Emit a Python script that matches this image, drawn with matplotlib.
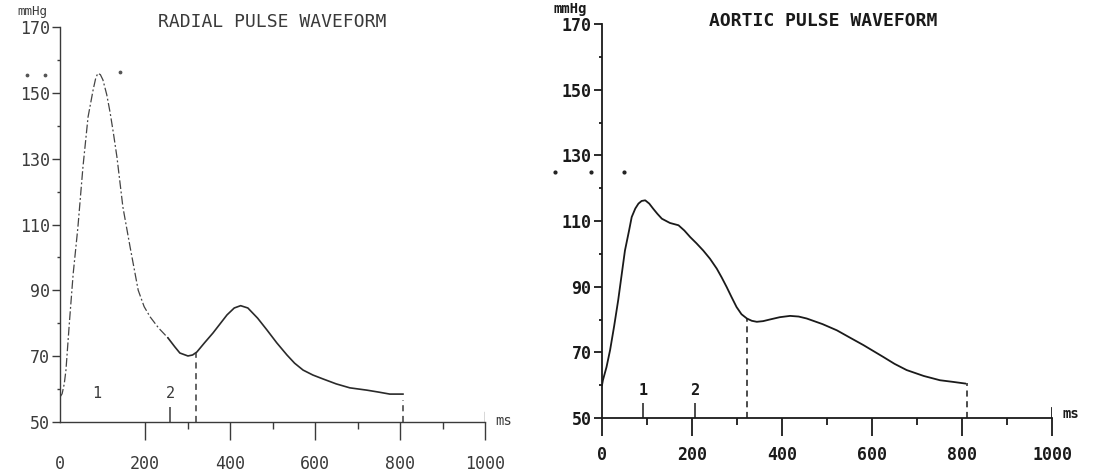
import matplotlib.pyplot as plt

# radial pulse waveform, time (ms) / pressure (mmHg)
radial_t = [0, 5, 10, 14, 22, 31, 42, 54, 66, 78, 84, 89, 95, 101, 110, 118, 126,
            134, 148, 165, 184, 198, 212, 232, 254, 270, 282, 301, 312, 322, 340,
            360, 393, 410, 425, 442, 465, 487, 510, 534, 552, 572, 595, 619, 650,
            682, 722, 750, 776, 807]
radial_p = [57.5, 58.5, 61.5, 65.7, 80, 95, 109, 127.5, 142.7, 151, 154.5, 156,
            155.6, 154, 149.5, 144, 137.5, 130.5, 115.3, 103.1, 90, 85, 81.9, 78.5,
            75.5, 72.8, 70.9, 70, 70.3, 71.2, 74, 77, 82.5, 84.6, 85.3, 84.6, 81.5,
            77.9, 74, 70.3, 67.8, 65.7, 64.2, 63, 61.5, 60.3, 59.6, 59, 58.4, 58.4]
radial_solid_from = 254          # trace is broken/faint before this time

# aortic pulse waveform
aortic_t = [0, 2, 10, 18, 27, 36, 51, 60, 66, 74, 81, 88, 96, 105, 114, 123, 133,
            151, 170, 183, 196, 210, 225, 240, 255, 266, 277, 288, 299, 310, 322,
            333, 344, 358, 373, 395, 418, 437, 455, 490, 522, 552, 581, 603, 625,
            650, 677, 715, 751, 780, 807]
aortic_p = [60, 61.5, 65.5, 70.7, 78, 85.9, 101, 107, 111.2, 113.8, 115.3, 116.1,
            116.3, 115.3, 113.7, 112.2, 110.7, 109.4, 108.7, 107.1, 105.1, 103.2,
            101, 98.5, 95.5, 92.8, 89.9, 86.8, 83.8, 81.6, 80.3, 79.6, 79.3, 79.5,
            80, 80.7, 81.1, 80.9, 80.3, 78.6, 76.7, 74.4, 72.2, 70.4, 68.6, 66.5,
            64.6, 62.8, 61.5, 61, 60.5]

# numbered markers (time, has tick) and dashed cursor lines (time, top)
radial_marks = [("1", 86, False), ("2", 259, True)]
aortic_marks = [("1", 91, True), ("2", 207, True)]
radial_cursors = [(319, 71.0), (807, 56.6)]
aortic_cursors = [(322, 80.3), (810, 60.6)]

# stray printer dots
radial_dots_t = [-78, -35, 141]
radial_dots_p = [155.5, 155.5, 156.5]
aortic_dots_t = [-104, -24, 49]
aortic_dots_p = [124.8, 124.8, 124.8]

x_ticks = [0, 200, 400, 600, 800, 1000]
x_labels = ["0", "200", "400", "600", "800", "1000"]
y_ticks = [50, 70, 90, 110, 130, 150, 170]
y_labels = ["50", "70", "90", "110", "130", "150", "170"]
y_minor = [60, 80, 100, 120, 140, 160]

W, H = 1094, 472
fig = plt.figure(figsize=(W / 100, H / 100), dpi=100)
fig.patch.set_facecolor("white")

ax_r = fig.add_axes([60 / W, (H - 421.7) / H, 425 / W, 394.4 / H])
ax_a = fig.add_axes([602 / W, (H - 418) / H, 450 / W, 394 / H])

MONO = "DejaVu Sans Mono"


def style_axes(ax, color, weight, lw, minor_x, xpad):
    ax.set_xlim(0, 1000)
    ax.set_ylim(50, 170)
    ax.patch.set_alpha(0)
    for s in ["top", "right"]:
        ax.spines[s].set_visible(False)
    for s in ["left", "bottom"]:
        ax.spines[s].set_color(color)
        ax.spines[s].set_linewidth(lw)
    ax.set_xticks(x_ticks)
    ax.set_xticklabels(x_labels)
    ax.set_xticks(minor_x, minor=True)
    ax.set_yticks(y_ticks)
    ax.set_yticklabels(y_labels)
    ax.set_yticks(y_minor, minor=True)
    ax.tick_params(axis="x", which="major", length=13, width=lw, pad=xpad, color=color)
    ax.tick_params(axis="x", which="minor", length=5, width=lw, color=color)
    ax.tick_params(axis="y", which="major", length=5.5, width=lw, pad=2, color=color)
    ax.tick_params(axis="y", which="minor", length=2.5, width=lw, color=color)
    for lab in ax.get_xticklabels() + ax.get_yticklabels():
        lab.set_fontfamily(MONO)
        lab.set_fontweight(weight)
        lab.set_fontsize(12)
        lab.set_color(color)
    # small upturn at the end of the time axis
    ax.axvline(1000, ymin=0, ymax=0.025, color=color, lw=lw)


style_axes(ax_r, "#3a3a3a", "normal", 1.0, [300, 500, 700, 900], 11)
ax_r.xaxis.get_major_ticks()[0].tick1line.set_visible(False)
style_axes(ax_a, "#1a1a1a", "bold", 1.3, [100, 300, 500, 700, 900], 7)

# radial trace: broken upstroke, solid tail
split = next(i for i, t in enumerate(radial_t) if t >= radial_solid_from)
ax_r.plot(radial_t[:split + 1], radial_p[:split + 1], color="#444444", lw=0.9,
          ls=(0, (7, 2, 1.5, 2)))
ax_r.plot(radial_t[split:], radial_p[split:], color="#2a2a2a", lw=1.2)

ax_a.plot(aortic_t, aortic_p, color="#1a1a1a", lw=1.3)

for ax, marks, cursors, color, weight in [
    (ax_r, radial_marks, radial_cursors, "#3a3a3a", "normal"),
    (ax_a, aortic_marks, aortic_cursors, "#1a1a1a", "bold"),
]:
    for label, t, tick in marks:
        ax.text(t, 58.5, label, ha="center", va="center", fontfamily=MONO,
                fontweight=weight, fontsize=11, color=color)
        if tick:
            ax.vlines(t, 50, 54.5, color=color, lw=1.1)
    for t, top in cursors:
        ax.vlines(t, 50, top, color=color, lw=1.1, linestyles=(0, (4, 3)))

ax_r.scatter(radial_dots_t, radial_dots_p, s=3, color="#555555", clip_on=False)
ax_a.scatter(aortic_dots_t, aortic_dots_p, s=4, color="#222222", clip_on=False)

# titles and units
fig.text(272 / W, 1 - 22 / H, "RADIAL PULSE WAVEFORM", ha="center", va="center",
         fontfamily=MONO, fontsize=13, color="#3a3a3a")
fig.text(823 / W, 1 - 21 / H, "AORTIC PULSE WAVEFORM", ha="center", va="center",
         fontfamily=MONO, fontsize=13, fontweight="bold", color="#1a1a1a")
fig.text(32 / W, 1 - 12 / H, "mmHg", ha="center", va="center",
         fontfamily=MONO, fontsize=9, color="#3a3a3a")
fig.text(570 / W, 1 - 9 / H, "mmHg", ha="center", va="center",
         fontfamily=MONO, fontsize=10, fontweight="bold", color="#1a1a1a")
fig.text(504 / W, 1 - 421 / H, "ms", ha="center", va="center",
         fontfamily=MONO, fontsize=10, color="#3a3a3a")
fig.text(1071 / W, 1 - 414 / H, "ms", ha="center", va="center",
         fontfamily=MONO, fontsize=10, fontweight="bold", color="#1a1a1a")

fig.savefig("out.png", dpi=100, facecolor="white")
